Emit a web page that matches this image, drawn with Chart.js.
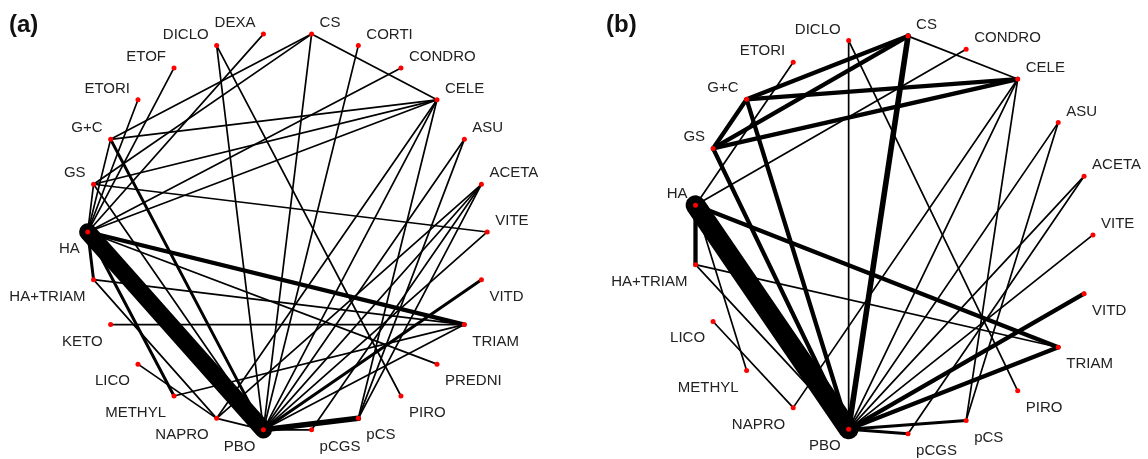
<!DOCTYPE html>
<html>
<head>
<meta charset="utf-8">
<script src="https://cdn.jsdelivr.net/npm/chart.js@4.4.1/dist/chart.umd.min.js"></script>
<style>
    html, body { margin: 0; padding: 0; background: #fff; }
    .wrap { display: flex; width: 1148px; height: 459px; }
    .panel { position: relative; width: 574px; height: 459px; }
</style>
</head>
<body>
<div class="wrap">
    <div class="panel"><canvas id="net-a"></canvas></div>
    <div class="panel"><canvas id="net-b"></canvas></div>
</div>
<script>
// treatments, in the order they sit round the circle
const treatmentsA = ['ACETA', 'ASU', 'CELE', 'CONDRO', 'CORTI', 'CS', 'DEXA', 'DICLO', 'ETOF', 'ETORI',
    'G+C', 'GS', 'HA', 'HA+TRIAM', 'KETO', 'LICO', 'METHYL', 'NAPRO', 'PBO', 'pCGS', 'pCS', 'PIRO',
    'PREDNI', 'TRIAM', 'VITD', 'VITE'];

const treatmentsB = ['ACETA', 'ASU', 'CELE', 'CONDRO', 'CS', 'DICLO', 'ETORI', 'G+C', 'GS', 'HA',
    'HA+TRIAM', 'LICO', 'METHYL', 'NAPRO', 'PBO', 'pCGS', 'pCS', 'PIRO', 'TRIAM', 'VITD', 'VITE'];

// direct comparisons: [treatment, treatment, number of studies]
const comparisonsA = [
    ['HA', 'PBO', 13], ['HA', 'TRIAM', 3], ['HA', 'HA+TRIAM', 2], ['HA', 'METHYL', 2],
    ['HA', 'PREDNI', 1], ['HA', 'CELE', 1], ['HA', 'CONDRO', 1], ['HA', 'ETOF', 1],
    ['HA', 'ETORI', 1], ['HA', 'DEXA', 1], ['HA', 'G+C', 1], ['HA', 'GS', 1],
    ['G+C', 'PBO', 2], ['G+C', 'CS', 1], ['G+C', 'CELE', 1],
    ['GS', 'CS', 1], ['GS', 'CELE', 1], ['GS', 'VITE', 1], ['GS', 'PBO', 1],
    ['CS', 'CELE', 1], ['CS', 'PBO', 1], ['CORTI', 'PBO', 1],
    ['DICLO', 'PBO', 1], ['DICLO', 'PIRO', 1],
    ['CELE', 'NAPRO', 1], ['CELE', 'PBO', 1], ['CELE', 'pCS', 1],
    ['ASU', 'PBO', 1], ['ASU', 'pCS', 1],
    ['ACETA', 'PBO', 1], ['ACETA', 'pCS', 1], ['ACETA', 'NAPRO', 1], ['ACETA', 'pCGS', 1],
    ['VITE', 'PBO', 1], ['VITD', 'PBO', 2],
    ['TRIAM', 'PBO', 1], ['TRIAM', 'KETO', 1], ['TRIAM', 'METHYL', 1], ['TRIAM', 'HA+TRIAM', 1],
    ['HA+TRIAM', 'NAPRO', 1], ['LICO', 'NAPRO', 1], ['NAPRO', 'PBO', 1],
    ['pCS', 'PBO', 4], ['pCGS', 'PBO', 1]
];

const comparisonsB = [
    ['HA', 'PBO', 15], ['HA', 'HA+TRIAM', 3], ['HA', 'TRIAM', 3],
    ['HA', 'ETORI', 1], ['HA', 'CONDRO', 1], ['HA', 'METHYL', 1],
    ['G+C', 'GS', 3], ['G+C', 'CS', 3], ['G+C', 'CELE', 3], ['G+C', 'PBO', 3],
    ['GS', 'CS', 3], ['GS', 'CELE', 3], ['GS', 'PBO', 3],
    ['CS', 'PBO', 4], ['CS', 'CELE', 1],
    ['DICLO', 'PBO', 1], ['DICLO', 'PIRO', 1],
    ['CELE', 'PBO', 1], ['CELE', 'NAPRO', 1], ['CELE', 'pCS', 1],
    ['ASU', 'PBO', 1], ['ASU', 'pCS', 1],
    ['ACETA', 'PBO', 1], ['ACETA', 'pCGS', 1],
    ['VITE', 'PBO', 1], ['VITD', 'PBO', 3], ['TRIAM', 'PBO', 3],
    ['TRIAM', 'HA+TRIAM', 1], ['HA+TRIAM', 'PBO', 1], ['LICO', 'NAPRO', 1],
    ['pCGS', 'PBO', 2], ['pCS', 'PBO', 2]
];

const labelFont = '15px "Liberation Sans", Arial, sans-serif';
const tagFont = 'bold 24px "Liberation Sans", Arial, sans-serif';

function circlePositions(treatments) {
    const step = 2 * Math.PI / treatments.length;
    const pos = {};
    treatments.forEach((t, i) => {
        const a = (i + 1) * step;
        pos[t] = { x: Math.cos(a), y: Math.sin(a) };
    });
    return pos;
}

const labelPlugin = {
    id: 'nodeLabels',
    afterDatasetsDraw(chart, args, opts) {
        const { ctx, scales } = chart;
        const pos = opts.positions;
        ctx.save();
        ctx.font = labelFont;
        ctx.fillStyle = '#222';
        ctx.textBaseline = 'alphabetic';
        Object.keys(pos).forEach((t) => {
            const p = pos[t];
            const px = scales.x.getPixelForValue(p.x);
            const py = scales.y.getPixelForValue(p.y);
            const right = p.x > 1e-9;
            const top = p.y > 1e-9 || p.x > 0.999999;
            ctx.textAlign = right ? 'left' : 'right';
            ctx.fillText(t, px + (right ? 8 : -8), py + (top ? -7 : 21));
        });
        ctx.font = tagFont;
        ctx.fillStyle = '#111';
        ctx.textAlign = 'left';
        ctx.fillText(opts.tag, opts.tagX, 32);
        ctx.restore();
    }
};

function drawNetwork(canvasId, treatments, comparisons, tag, tagX, layout) {
    const pos = circlePositions(treatments);
    const w = 574;
    const h = 459;

    const edges = comparisons.map(([from, to, studies]) => ({
        data: [pos[from], pos[to]],
        showLine: true,
        borderColor: '#000',
        borderWidth: 0.4 + 1.3 * studies,
        borderCapStyle: 'round',
        pointRadius: 0,
        pointHoverRadius: 0,
        clip: false,
        order: 2
    }));

    const nodes = {
        data: treatments.map((t) => pos[t]),
        backgroundColor: '#ff0000',
        borderWidth: 0,
        pointRadius: 2.5,
        pointHoverRadius: 2.5,
        clip: false,
        order: 0
    };

    new Chart(document.getElementById(canvasId), {
        type: 'scatter',
        data: { datasets: [...edges, nodes] },
        options: {
            responsive: true,
            maintainAspectRatio: false,
            animation: false,
            events: [],
            layout: { padding: 0 },
            plugins: {
                legend: { display: false },
                tooltip: { enabled: false },
                nodeLabels: { positions: pos, tag, tagX }
            },
            scales: {
                x: {
                    type: 'linear',
                    display: false,
                    min: -layout.cx / layout.r,
                    max: (w - layout.cx) / layout.r
                },
                y: {
                    type: 'linear',
                    display: false,
                    min: -(h - layout.cy) / layout.r,
                    max: layout.cy / layout.r
                }
            }
        },
        plugins: [labelPlugin]
    });
}

drawNetwork('net-a', treatmentsA, comparisonsA, '(a)', 9, { cx: 287.5, cy: 232, r: 201.5 });
drawNetwork('net-b', treatmentsB, comparisonsB, '(b)', 32, { cx: 319.4, cy: 235, r: 201.6 });
</script>
</body>
</html>
